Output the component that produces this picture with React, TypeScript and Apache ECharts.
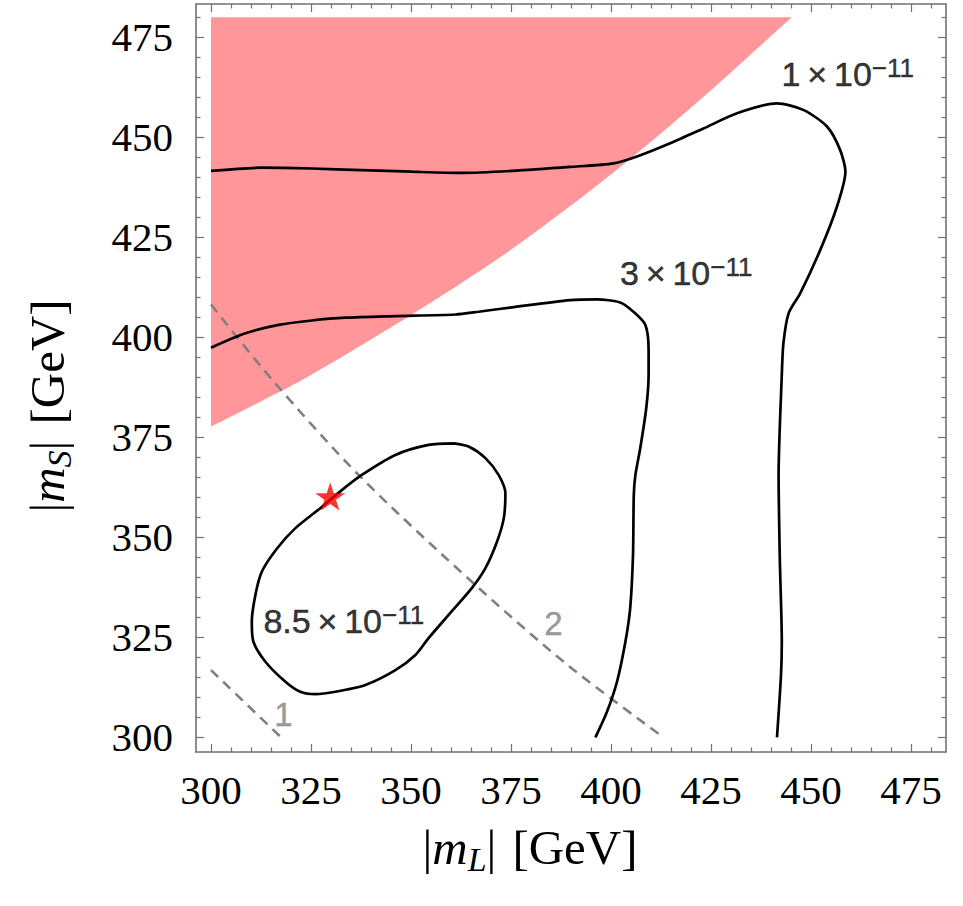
import React, { useEffect, useRef } from 'react';
import * as echarts from 'echarts';

// ---------- data ----------
const xRange = [296.25, 483.75];
const yRange = [296.33, 483.33];
const majorTicks = [300, 325, 350, 375, 400, 425, 450, 475];
const minorTicks = [305, 310, 315, 320, 330, 335, 340, 345, 355, 360, 365, 370, 380, 385, 390, 395, 405, 410, 415, 420, 430, 435, 440, 445, 455, 460, 465, 470, 480];

// excluded (pink) region: lower boundary, bounded by x = 300 and y = 480
const exclusionBoundary = [
  [300, 377.7], [312.7, 384.1], [325.2, 390.7], [349.4, 405.2], [371.1, 419.2],
  [389.8, 432.8], [406.5, 446.0], [423.2, 460.2], [445.2, 480],
];
const exclusionTop = 480;
const exclusionLeft = 300;

// contour 1e-11
const contour1 = [
  [300, 441.6], [312.7, 442.4], [325.2, 442.2], [337.7, 441.8], [350.2, 441.4], [362.7, 441.1],
  [375.2, 441.6], [389.8, 442.6], [400.7, 443.5], [406.5, 445.2], [414.8, 448.5], [423.1, 452.2],
  [431.5, 456], [441.5, 458.5], [448.2, 456.8], [454, 452.7], [457.3, 446.8], [458.6, 441.4],
  [456.5, 432.7], [452.3, 421.8], [447.3, 411], [444.4, 406], [443.1, 398.5], [442.7, 390.6],
  [441.9, 365.6], [442.2, 344.8], [442.7, 323.9], [442.5, 315.6], [441.5, 300],
];
// contour 3e-11
const contour3 = [
  [300, 397.4], [308.6, 401], [316.9, 403.1], [325.2, 404.2], [333.6, 404.9], [346.1, 405.3],
  [361.1, 405.7], [366.9, 406.4], [375.2, 407.5], [389.8, 409.3], [396.5, 409.5], [402.3, 408.7],
  [405.6, 406.4], [408.6, 403.1], [409.4, 396.8], [409.4, 390.6], [408.8, 382.2], [407.3, 372.2],
  [406.1, 365.6], [405.7, 360.6], [405.5, 345.6], [404.8, 332.3], [403.6, 323.9], [401.5, 313.9],
  [399, 306.4], [396.1, 300],
];
// contour 8.5e-11 (closed)
const contour85 = [
  [360.7, 373.5], [364.4, 372.7], [368.6, 369.8], [371.9, 365.6], [373.6, 361], [373.2, 354.8],
  [371.5, 348.9], [368.6, 342.3], [365.2, 337.3], [359.4, 330.6], [354.4, 324.8], [351.1, 320.6],
  [346.1, 316.8], [338.6, 313.1], [331.1, 311.4], [326.1, 310.8], [322.3, 311.4], [318.6, 313.9],
  [313.6, 318.9], [310.6, 323.9], [310.2, 328.9], [311.1, 335.6], [312.7, 341.4], [316.5, 347.2],
  [321.1, 352.3], [327.7, 357.6], [332.7, 361.8], [337.7, 365.6], [346.1, 370.6], [354.4, 373.1],
  [360.7, 373.5],
];
// dashed reference curves
const dashed1 = [[300, 316.8], [317.5, 300]];
const dashed2 = [[300, 408.2], [315.2, 389.5], [336.9, 365.6], [365.2, 338.9], [389.5, 317.8], [412.7, 300.3]];
const dashedLabelText = ['1', '2'];
const dashedLabelPos = [[318.1, 305.6], [385.6, 328.5]];

// contour labels
const contourLabelMantissa = ['1', '3', '8.5'];
const contourLabelExponent = ['\u221211', '\u221211', '\u221211'];
const contourLabelPos = [[459.2, 465.8], [418.8, 416.2], [333.2, 329.1]];

// benchmark point
const benchmark = [[329.8, 360.2]];

// ---------- styles ----------
const pink = '#ff9699';
const frameColor = '#717171';
const serif = '"Liberation Serif", "Times New Roman", serif';
const sans = '"Liberation Sans", Arial, Helvetica, sans-serif';
const starPath = 'path://M50,0 L61.2,34.5 L97.6,34.5 L68.2,55.9 L79.4,90.5 L50,69.1 L20.6,90.5 L31.8,55.9 L2.4,34.5 L38.8,34.5 Z';

const nameRich = {
  a: { fontSize: 49, fontFamily: serif, color: '#000', lineHeight: 58 },
  i: { fontSize: 49, fontFamily: serif, fontStyle: 'italic', color: '#000', lineHeight: 58 },
  b: { fontSize: 34, fontFamily: serif, fontStyle: 'italic', color: '#000', lineHeight: 36, verticalAlign: 'bottom' },
  sp: { fontSize: 49, fontFamily: serif, width: 16, lineHeight: 58 },
};

function makeAxes(kind: 'x' | 'y') {
  const min = kind === 'x' ? xRange[0] : yRange[0];
  const max = kind === 'x' ? xRange[1] : yRange[1];
  const sides = kind === 'x' ? ['bottom', 'top'] : ['left', 'right'];
  const axes: any[] = [];
  sides.forEach((side, si) => {
    [true, false].forEach((major) => {
      const ax: any = {
        type: 'value',
        position: side,
        min,
        max,
        axisLine: { show: major, onZero: false, lineStyle: { color: frameColor, width: 1.6 } },
        axisTick: {
          show: true,
          inside: true,
          length: major ? 8 : 4.5,
          customValues: major ? majorTicks : minorTicks,
          lineStyle: { color: frameColor, width: 1.2 },
        },
        axisLabel: { show: false },
        splitLine: { show: false },
        silent: true,
      };
      if (si === 0 && major) {
        ax.axisLabel = {
          show: true,
          customValues: majorTicks,
          margin: kind === 'x' ? 17 : 23,
          fontSize: 41,
          fontFamily: serif,
          color: '#000',
        };
        ax.nameLocation = 'middle';
        if (kind === 'x') {
          ax.name = '{a||}{i|m}{b|L}{a||}{sp| }{a|[GeV]}';
          ax.nameGap = 66;
          ax.nameTextStyle = { rich: nameRich, padding: [0, 82, 0, 0] };
        } else {
          ax.name = '{a||}{i|m}{b|S}{a||}{sp| }{a|[GeV]}';
          ax.nameGap = 120;
          ax.nameTextStyle = { rich: nameRich, padding: [0, 56, 0, 0] };
        }
      }
      axes.push(ax);
    });
  });
  return axes;
}

function exclusionPath(pts: number[][], corner: number[]) {
  let d = `M${pts[0][0]},${pts[0][1]}`;
  for (let i = 0; i < pts.length - 1; i++) {
    const p0 = pts[i - 1] || pts[i];
    const p1 = pts[i];
    const p2 = pts[i + 1];
    const p3 = pts[i + 2] || p2;
    const c1 = [p1[0] + (p2[0] - p0[0]) / 6, p1[1] + (p2[1] - p0[1]) / 6];
    const c2 = [p2[0] - (p3[0] - p1[0]) / 6, p2[1] - (p3[1] - p1[1]) / 6];
    d += ` C${c1[0]},${c1[1]} ${c2[0]},${c2[1]} ${p2[0]},${p2[1]}`;
  }
  d += ` L${corner[0]},${corner[1]} Z`;
  return d;
}

const contourLine = (data: number[][]) => ({
  type: 'line',
  data,
  xAxisIndex: 0,
  yAxisIndex: 0,
  showSymbol: false,
  symbol: 'none',
  smooth: 0.25,
  silent: true,
  lineStyle: { color: '#000', width: 2.7 },
  z: 4,
});

const dashedLine = (data: number[][]) => ({
  type: 'line',
  data,
  xAxisIndex: 0,
  yAxisIndex: 0,
  showSymbol: false,
  symbol: 'none',
  smooth: 0.3,
  silent: true,
  lineStyle: { color: '#808080', width: 2.6, type: [10, 7] },
  z: 3,
});

const noBorder = { textBorderWidth: 0, textBorderColor: 'transparent', textShadowBlur: 0 };

export default function App() {
  const ref = useRef<HTMLDivElement>(null);
  useEffect(() => {
    const chart = echarts.init(ref.current!, null, { renderer: 'svg' });
    const option: any = {
      animation: false,
      backgroundColor: '#fff',
      grid: { left: 196, top: 4, width: 750, height: 748, containLabel: false, outerBoundsMode: 'none' },
      xAxis: makeAxes('x'),
      yAxis: makeAxes('y'),
      series: [
        {
          type: 'custom',
          coordinateSystem: 'cartesian2d',
          xAxisIndex: 0,
          yAxisIndex: 0,
          silent: true,
          z: 1,
          data: [[exclusionLeft, exclusionTop]],
          renderItem: (_params: any, api: any) => {
            const pts = exclusionBoundary.map((p) => api.coord(p));
            const corner = api.coord([exclusionLeft, exclusionTop]);
            return {
              type: 'path',
              shape: { pathData: exclusionPath(pts, corner) },
              style: { fill: pink, stroke: null },
            };
          },
        },
        dashedLine(dashed1),
        dashedLine(dashed2),
        contourLine(contour1),
        contourLine(contour3),
        contourLine(contour85),
        {
          type: 'scatter',
          xAxisIndex: 0,
          yAxisIndex: 0,
          data: benchmark,
          symbol: starPath,
          symbolSize: [30, 28],
          itemStyle: { color: '#ff0000' },
          silent: true,
          z: 6,
        },
        {
          type: 'scatter',
          xAxisIndex: 0,
          yAxisIndex: 0,
          symbolSize: 1,
          itemStyle: { color: 'rgba(0,0,0,0)' },
          silent: true,
          z: 7,
          data: contourLabelPos.map((p, i) => ({
            value: p,
            label: { formatter: `{m|${contourLabelMantissa[i]}\u2009\u00d7\u200910}{s|${contourLabelExponent[i]}}` },
          })),
          label: {
            show: true,
            position: 'inside',
            color: '#000',
            ...noBorder,
            rich: {
              m: { fontSize: 34, fontFamily: sans, color: '#000', lineHeight: 38, textBorderColor: '#000', textBorderWidth: 0.5 },
              s: { fontSize: 26, fontFamily: sans, color: '#000', lineHeight: 18, verticalAlign: 'top', textBorderColor: '#000', textBorderWidth: 0.4 },
            },
          },
        },
        {
          type: 'scatter',
          xAxisIndex: 0,
          yAxisIndex: 0,
          symbolSize: 1,
          itemStyle: { color: 'rgba(0,0,0,0)' },
          silent: true,
          z: 7,
          data: dashedLabelPos.map((p, i) => ({ value: p, label: { formatter: dashedLabelText[i] } })),
          label: {
            show: true,
            position: 'inside',
            fontSize: 33,
            fontFamily: sans,
            color: '#808080',
            textBorderColor: '#808080',
            textBorderWidth: 0.4,
          },
        },
      ],
    };
    chart.setOption(option);
    return () => chart.dispose();
  }, []);
  return <div ref={ref} style={{ position: 'fixed', left: 0, top: 0, width: 963, height: 906 }} />;
}
